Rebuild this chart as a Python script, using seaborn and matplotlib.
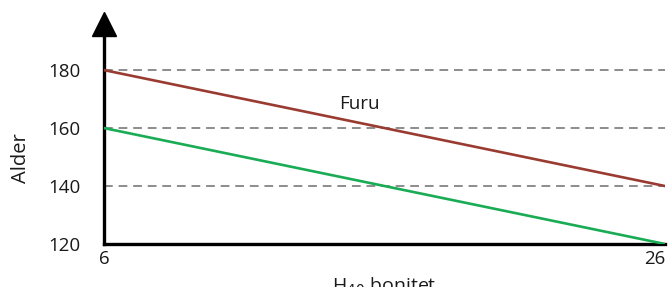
import pandas as pd
import matplotlib
matplotlib.use("Agg")
import matplotlib.pyplot as plt
import seaborn as sns

bonitet = [6, 26]
furu_alder = [180, 140]
gran_alder = [160, 120]
yticks = [120, 140, 160, 180]

df = pd.concat([
    pd.DataFrame({"bonitet": bonitet, "alder": furu_alder, "treslag": "Furu"}),
    pd.DataFrame({"bonitet": bonitet, "alder": gran_alder, "treslag": "Gran"}),
], ignore_index=True)

sns.set_style("white")
plt.rcParams["font.family"] = ["Open Sans", "DejaVu Sans"]

fig = plt.figure(figsize=(6.71, 2.87), dpi=100)
ax = fig.add_axes([104 / 671, 43 / 287, 561 / 671, 220 / 287])

ax.set_xlim(6, 26)
ax.set_ylim(120, 195.9)

# stiplede hjelpelinjer
for y in [140, 160, 180]:
    ax.axhline(y, color="#8c8c8c", linestyle=(0, (4.5, 3)), linewidth=1.4, zorder=1)

sns.lineplot(
    data=df,
    x="bonitet",
    y="alder",
    hue="treslag",
    palette={"Furu": "#9a3b32", "Gran": "#1aab55"},
    linewidth=1.9,
    legend=False,
    ax=ax,
    zorder=3,
)

ax.text(15.1, 168.3, "Furu", fontsize=13.5, ha="center", va="center", color="#1a1a1a")

for s in ["top", "right"]:
    ax.spines[s].set_visible(False)
for s in ["left", "bottom"]:
    ax.spines[s].set_linewidth(2.4)
    ax.spines[s].set_color("black")

# pil på y-aksen
ax.plot(0, 1, marker="^", color="black", markersize=17,
        transform=ax.transAxes, clip_on=False)

ax.set_yticks(yticks)
ax.set_xticks(bonitet)
ax.tick_params(axis="y", length=0, pad=17, labelsize=13.5, labelcolor="#1a1a1a")
ax.tick_params(axis="x", length=0, pad=4, labelsize=13.5, labelcolor="#1a1a1a")
ax.get_xticklabels()[-1].set_horizontalalignment("right")

ax.set_ylabel("")
fig.text(21 / 671, 1 - 158 / 287, "Alder", rotation=90, fontsize=14.5,
         ha="center", va="center", color="#1a1a1a")
ax.set_xlabel("H$_{40}$ bonitet", fontsize=14, labelpad=6, color="#1a1a1a")

fig.savefig("out.png", dpi=100)
